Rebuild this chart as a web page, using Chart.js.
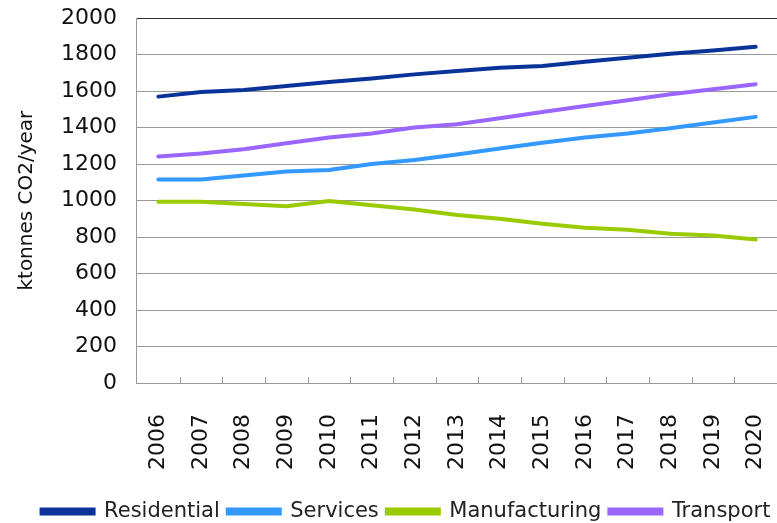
<!DOCTYPE html>
<html>
<head>
<meta charset="utf-8">
<script src="https://cdn.jsdelivr.net/npm/chart.js@4/dist/chart.umd.min.js"></script>
<style>
  html, body { margin: 0; padding: 0; background: #fff; }
  #frame { position: relative; width: 777px; height: 523px; overflow: hidden; }
  #wrap { position: absolute; left: 0; top: -15px; width: 797px; height: 538px; }
</style>
</head>
<body>
<div id="frame"><div id="wrap"><canvas id="chart"></canvas></div></div>
<script>
const years = ['2006', '2007', '2008', '2009', '2010', '2011', '2012', '2013', '2014', '2015', '2016', '2017', '2018', '2019', '2020'];
const residential = [1570, 1596, 1607, 1628, 1650, 1670, 1692, 1710, 1728, 1738, 1761, 1783, 1805, 1823, 1843];
const services = [1116, 1116, 1138, 1160, 1168, 1201, 1223, 1253, 1286, 1317, 1346, 1368, 1397, 1428, 1459];
const manufacturing = [994, 994, 982, 969, 998, 974, 951, 921, 900, 873, 851, 840, 818, 809, 787];
const transport = [1242, 1258, 1282, 1315, 1346, 1368, 1401, 1419, 1452, 1486, 1519, 1550, 1583, 1610, 1638];
const yTicks = [0, 200, 400, 600, 800, 1000, 1200, 1400, 1600, 1800, 2000];

const font = 'DejaVu Sans';

// small inward tick marks on the x axis, at the category boundaries
const innerTicks = {
  id: 'innerTicks',
  afterDraw(chart) {
    const x = chart.scales.x;
    const ctx = chart.ctx;
    const bottom = chart.chartArea.bottom;
    ctx.save();
    ctx.strokeStyle = '#999';
    ctx.lineWidth = 1;
    for (let i = 1; i < years.length; i++) {
      const px = Math.round((x.getPixelForValue(i - 1) + x.getPixelForValue(i)) / 2) + 0.5;
      ctx.beginPath();
      ctx.moveTo(px, bottom);
      ctx.lineTo(px, bottom - 6);
      ctx.stroke();
    }
    ctx.restore();
  }
};

const mk = (label, data, color) => ({
  label, data,
  borderColor: color,
  backgroundColor: color,
  borderWidth: 4,
  pointRadius: 0,
  tension: 0,
  borderCapStyle: 'round'
});

new Chart(document.getElementById('chart'), {
  type: 'line',
  data: {
    labels: years,
    datasets: [
      mk('Residential', residential, '#0a3399'),
      mk('Services', services, '#3399ff'),
      mk('Manufacturing', manufacturing, '#99cc00'),
      mk('Transport', transport, '#9966ff')
    ]
  },
  options: {
    responsive: true,
    maintainAspectRatio: false,
    animation: false,
    layout: { padding: { left: 15, right: 0, top: 6, bottom: -9 } },
    plugins: {
      legend: {
        position: 'bottom',
        labels: {
          color: '#222',
          font: { family: font, size: 21 },
          boxWidth: 52,
          boxHeight: 4,
          padding: 8
        }
      },
      tooltip: { enabled: false }
    },
    scales: {
      x: {
        offset: true,
        afterFit: (s) => { s.height -= 8; s.paddingRight = 20; },
        grid: { display: true, drawOnChartArea: false, offset: true, color: '#999', tickLength: 0 },
        border: { color: '#999' },
        ticks: {
          color: '#111',
          font: { family: font, size: 22 },
          maxRotation: 90,
          minRotation: 90,
          autoSkip: false,
          padding: 31
        }
      },
      y: {
        min: 0,
        max: 2000,
        afterBuildTicks: (axis) => { axis.ticks = yTicks.map(v => ({ value: v })); },
        grid: {
          color: (c) => c.tick && c.tick.value === 2000 ? '#333' : '#999',
          tickLength: 0
        },
        border: { color: '#999' },
        ticks: {
          color: '#111',
          font: { family: font, size: 22 },
          padding: 20,
          callback: (v) => String(v)
        },
        title: {
          display: true,
          text: 'ktonnes CO2/year',
          color: '#111',
          font: { family: font, size: 20 },
          padding: { top: 0, bottom: 2 }
        }
      }
    }
  },
  plugins: [innerTicks]
});
</script>
</body>
</html>
